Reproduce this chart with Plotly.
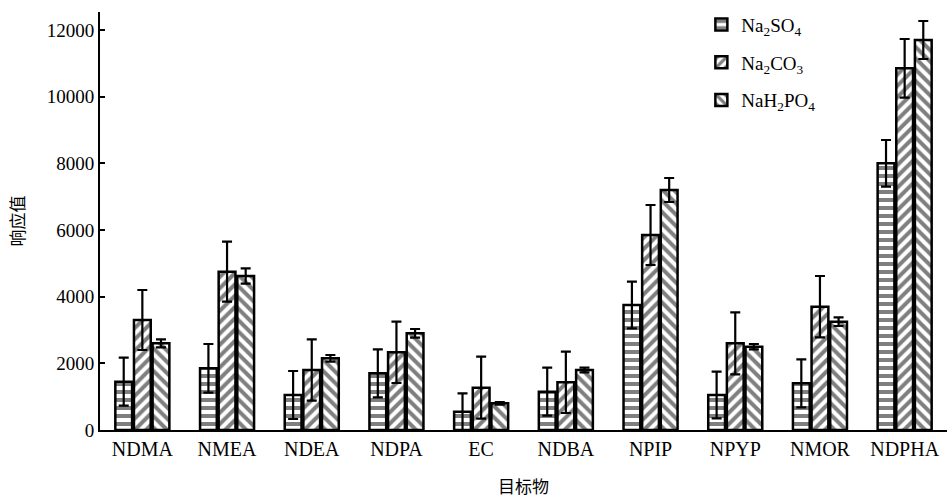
import plotly.graph_objects as go

categories = ["NDMA", "NMEA", "NDEA", "NDPA", "EC", "NDBA", "NPIP", "NPYP", "NMOR", "NDPHA"]

na2so4 = [1450, 1850, 1050, 1700, 550, 1150, 3750, 1050, 1400, 8000]
na2so4_err = [720, 730, 720, 720, 550, 720, 700, 700, 720, 700]

na2co3 = [3300, 4750, 1800, 2330, 1270, 1430, 5850, 2600, 3700, 10850]
na2co3_err = [900, 900, 920, 920, 930, 920, 900, 930, 920, 880]

nah2po4 = [2600, 4620, 2150, 2900, 800, 1800, 7200, 2500, 3250, 11700]
nah2po4_err = [120, 230, 100, 130, 40, 70, 360, 80, 130, 570]

y_ticks = [0, 2000, 4000, 6000, 8000, 10000, 12000]

series = [
    ("Na<sub>2</sub>SO<sub>4</sub>", na2so4, na2so4_err, "-"),
    ("Na<sub>2</sub>CO<sub>3</sub>", na2co3, na2co3_err, "/"),
    ("NaH<sub>2</sub>PO<sub>4</sub>", nah2po4, nah2po4_err, "\\"),
]

fig = go.Figure()
for i, (name, vals, errs, shape) in enumerate(series):
    fig.add_trace(go.Bar(
        name=name,
        x=categories,
        y=vals,
        legendgroup=f"g{i}",
        marker=dict(
            color="white",
            line=dict(color="black", width=2.5),
            pattern=dict(shape=shape, fgcolor="black", bgcolor="white",
                         size=8, solidity=0.5, fillmode="overlay"),
        ),
        error_y=dict(type="data", array=errs, visible=True,
                     color="black", thickness=2.2, width=5),
    ))

serif = "Liberation Serif"
cjk = "Noto Sans CJK SC"

fig.update_layout(
    width=947, height=501,
    margin=dict(l=100, r=0, t=12, b=71),
    plot_bgcolor="white", paper_bgcolor="white",
    barmode="group", bargap=0.34, bargroupgap=0.1,
    font=dict(family=serif, size=18, color="black"),
    showlegend=True,
    legend=dict(x=0.71, y=1.015, xanchor="left", yanchor="top",
                font=dict(family=serif, size=19, color="black"),
                bgcolor="rgba(0,0,0,0)", tracegroupgap=10,
                itemwidth=30),
    xaxis=dict(
        showline=True, linecolor="black", linewidth=2,
        ticks="", tickfont=dict(family=serif, size=20, color="black"),
        title=dict(text="目标物", font=dict(family=cjk, size=17), standoff=22),
        range=[-0.5, 9.5],
    ),
    yaxis=dict(
        showline=True, linecolor="black", linewidth=2,
        showgrid=False, zeroline=False,
        range=[0, 12540], tickvals=y_ticks,
        ticktext=[str(v) for v in y_ticks],
        ticks="inside", ticklen=5, tickwidth=2, tickcolor="black",
        tickfont=dict(family=serif, size=19, color="black"),
        title=dict(text="响应值", font=dict(family=cjk, size=17), standoff=18),
    ),
)

fig.write_html("out.html")
